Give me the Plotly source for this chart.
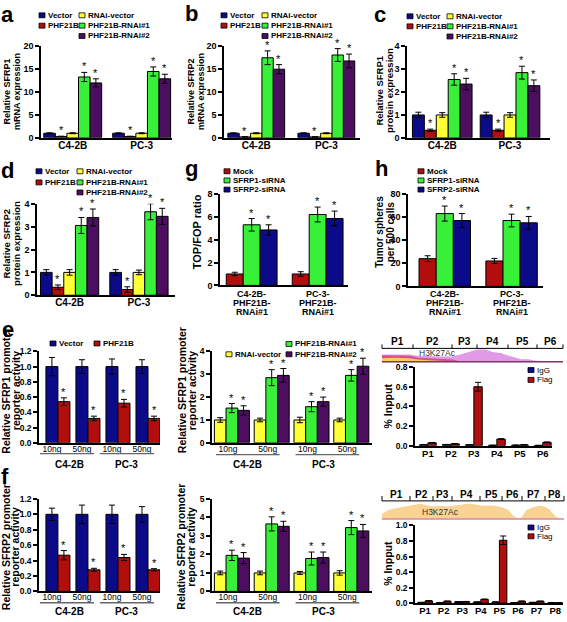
import plotly.graph_objects as go

W, H = 567, 622
FONT = "Liberation Sans, Arial, Helvetica, sans-serif"
NAVY = "#0b0b8a"
RED = "#b20e0e"
YELLOW = "#ffff38"
GREEN = "#38f038"
PURPLE = "#4c0f5f"

# ---------------- data ----------------
cells = ["C4-2B", "PC-3"]
oe_groups = ["Vector", "PHF21B", "RNAi-vector", "PHF21B-RNAi#1", "PHF21B-RNAi#2"]
oe_sig = [False, True, False, True, True]

a_mean = [[1.0, 1.0], [0.3, 0.3], [1.0, 1.0], [13.3, 14.5], [12.0, 12.9]]
a_err = [[0.1, 0.1], [0.05, 0.05], [0.1, 0.1], [1.0, 1.0], [0.9, 1.0]]
b_mean = [[1.0, 1.0], [0.2, 0.2], [1.0, 1.0], [17.5, 18.1], [15.0, 16.8]]
b_err = [[0.1, 0.1], [0.05, 0.05], [0.1, 0.1], [1.5, 1.4], [1.0, 1.5]]
c_mean = [[1.0, 1.0], [0.33, 0.33], [1.0, 1.0], [2.55, 2.85], [2.35, 2.28]]
c_err = [[0.12, 0.12], [0.05, 0.05], [0.1, 0.1], [0.25, 0.28], [0.25, 0.25]]
d_mean = [[1.0, 1.0], [0.35, 0.25], [1.0, 1.0], [3.05, 3.65], [3.4, 3.45]]
d_err = [[0.12, 0.12], [0.1, 0.12], [0.12, 0.1], [0.35, 0.35], [0.37, 0.35]]

sirna_groups = ["Mock", "SFRP1-siRNA", "SFRP2-siRNA"]
sirna_cells = ["C4-2B-PHF21B-RNAi#1", "PC-3-PHF21B-RNAi#1"]
sirna_cell_lines = [["C4-2B-", "PHF21B-", "RNAi#1"], ["PC-3-", "PHF21B-", "RNAi#1"]]
sirna_sig = [False, True, True]
g_mean = [[1.0, 1.0], [5.3, 6.2], [4.85, 5.85]]
g_err = [[0.15, 0.2], [0.55, 0.65], [0.45, 0.65]]
h_mean = [[24, 22], [63, 57], [57, 55]]
h_err = [[2.5, 2.2], [6.5, 5.5], [6.0, 5.5]]

dose_cats = ["C4-2B 10ng", "C4-2B 50ng", "PC-3 10ng", "PC-3 50ng"]
dose_labels = ["10ng", "50ng", "10ng", "50ng"]
oe_pair = ["Vector", "PHF21B"]
pair_sig = [False, True]
kd_trio = ["RNAi-vector", "PHF21B-RNAi#1", "PHF21B-RNAi#2"]
trio_sig = [False, True, True]
e1_mean = [[1.0, 1.0, 1.0, 1.0], [0.54, 0.32, 0.52, 0.32]]
e1_err = [[0.12, 0.09, 0.1, 0.09], [0.05, 0.03, 0.05, 0.03]]
e2_mean = [[1.0, 1.0, 1.0, 1.0], [1.52, 2.85, 1.58, 2.95], [1.42, 2.95, 1.8, 3.35]]
e2_err = [[0.1, 0.08, 0.12, 0.08], [0.2, 0.35, 0.22, 0.25], [0.2, 0.3, 0.2, 0.35]]
f1_mean = [[1.0, 1.0, 1.0, 1.0], [0.47, 0.28, 0.44, 0.28]]
f1_err = [[0.08, 0.12, 0.12, 0.1], [0.06, 0.02, 0.04, 0.015]]
f2_mean = [[1.0, 1.0, 1.0, 1.0], [1.95, 3.65, 1.78, 3.45], [1.8, 3.52, 1.83, 3.27]]
f2_err = [[0.1, 0.1, 0.08, 0.12], [0.28, 0.38, 0.35, 0.38], [0.3, 0.27, 0.3, 0.35]]

chip_groups = ["IgG", "Flag"]
chip_sig = [False, False]
e3_regions = ["P1", "P2", "P3", "P4", "P5", "P6"]
e3_mean = [[0.01, 0.012, 0.01, 0.005, 0.006, 0.004], [0.03, 0.02, 0.60, 0.068, 0.01, 0.035]]
e3_err = [[0.002, 0.002, 0.002, 0.001, 0.001, 0.001], [0.004, 0.003, 0.045, 0.004, 0.002, 0.004]]
f3_regions = ["P1", "P2", "P3", "P4", "P5", "P6", "P7", "P8"]
f3_mean = [[0.01, 0.005, 0.02, 0.015, 0.015, 0.008, 0.01, 0.005],
           [0.03, 0.025, 0.02, 0.05, 0.81, 0.025, 0.025, 0.005]]
f3_err = [[0.002, 0.001, 0.002, 0.002, 0.002, 0.001, 0.002, 0.001],
          [0.004, 0.004, 0.003, 0.003, 0.055, 0.004, 0.003, 0.002]]

# H3K27Ac signal tracks (relative genome position 0..1, relative signal 0..1)
e3_track_pos = [0, 0.07, 0.15, 0.2, 0.26, 0.33, 0.39, 0.42, 0.48, 0.53, 0.57, 0.61,
                0.66, 0.7, 0.73, 0.77, 0.81, 0.84, 0.88, 0.94, 1.0]
e3_track_pink = [0.6, 0.62, 0.6, 0.5, 0.45, 0.45, 0.45, 0.55, 0.8, 1.0, 1.0, 0.8,
                 0.7, 0.5, 0.4, 0.23, 0.23, 0.13, 0.1, 0.1, 0.1]
e3_track_red = [0.55, 0.55, 0.5, 0.35, 0.3, 0.28, 0.2, 0.1, 0.05, 0.03, 0.03, 0.03,
                0.03, 0.03, 0.03, 0.03, 0.03, 0.03, 0.03, 0.03, 0.03]
e3_track_yellow = [0.3, 0.35, 0.3, 0.2, 0.15, 0.1, 0.05, 0.02, 0.0, 0.0, 0.0, 0.0,
                   0.0, 0.0, 0.0, 0.0, 0.0, 0.0, 0.0, 0.0, 0.0]
f3_track_pos = [0, 0.033, 0.07, 0.106, 0.143, 0.179, 0.216, 0.253, 0.289, 0.326, 0.363,
                0.399, 0.436, 0.473, 0.509, 0.546, 0.582, 0.619, 0.656, 0.692, 0.72,
                0.747, 0.766, 0.793, 0.83, 0.866, 0.894, 0.921, 0.949, 0.976, 1.0]
f3_track_sig = [0.36, 0.6, 0.7, 0.79, 0.88, 0.95, 1.0, 0.88, 0.83, 0.88, 0.83, 0.88,
                0.95, 1.0, 0.98, 0.88, 0.9, 0.88, 0.79, 0.64, 0.24, 0.07, 0.15, 0.6,
                0.79, 0.88, 0.83, 0.64, 0.24, 0.07, 0.05]

# ---------------- figure helpers ----------------
fig = go.Figure()
layout = dict(width=W, height=H, margin=dict(l=0, r=0, t=0, b=0),
              paper_bgcolor="white", plot_bgcolor="white", showlegend=False,
              barmode="group", font=dict(family=FONT, color="black"))
annotations = []
shapes = []
counter = [0]


def X(p):
    return p / W


def Y(p):
    return 1 - p / H


def next_axes():
    counter[0] += 1
    n = counter[0]
    return "" if n == 1 else str(n)


def bar_panel(x0, x1, ytop, ybot, cats, tick_text, xrange, yrange, dtick, tickformat,
              names, means, errs, colors, sig, gap, shift=0.0, show_xlabels=True,
              xfont=10, xbold=True, err_w=3, star_size=11, standoff=-3, yfont=9):
    s = next_axes()
    xa, ya = "x" + s, "y" + s
    layout["xaxis" + s] = dict(
        domain=[X(x0), X(x1)], anchor=ya, type="category", categoryorder="array",
        categoryarray=cats, range=xrange, showline=True, linecolor="black", linewidth=1.5,
        ticks="", ticklabelstandoff=standoff, showgrid=False,
        zeroline=False, tickvals=cats, ticktext=tick_text, showticklabels=show_xlabels,
        tickfont=dict(size=xfont, weight="bold" if xbold else "normal"), fixedrange=True)
    layout["yaxis" + s] = dict(
        domain=[Y(ybot), Y(ytop)], anchor=xa, range=yrange, tick0=0, dtick=dtick,
        tickformat=tickformat, showline=True, linecolor="black", linewidth=1.5,
        ticks="outside", ticklen=4, tickwidth=1.5, tickcolor="black", showgrid=False,
        zeroline=False, tickfont=dict(size=yfont, weight="bold"), fixedrange=True)
    k = len(means)
    w = (1 - gap) / k
    for i in range(k):
        off = -(1 - gap) / 2 + i * w + shift
        fig.add_trace(go.Bar(
            name=names[i], x=cats, y=means[i], width=w, offset=off, xaxis=xa, yaxis=ya,
            marker=dict(color=colors[i], line=dict(color="black", width=1)),
            error_y=dict(type="data", array=errs[i], visible=True, color="black",
                         thickness=1, width=err_w),
            showlegend=False))
        if sig[i]:
            for j in range(len(cats)):
                annotations.append(dict(
                    xref=xa, yref=ya, x=j + off + w / 2, y=means[i][j] + errs[i][j],
                    text="*", showarrow=False, yanchor="bottom", yshift=-2,
                    font=dict(size=star_size, color="black")))
    return xa, ya


def legend_item(xm, yc, color, label, bold=True, size=8, sq=6):
    shapes.append(dict(type="rect", xref="paper", yref="paper",
                       x0=X(xm - sq / 2), x1=X(xm + sq / 2),
                       y0=Y(yc + sq / 2 - 0.5), y1=Y(yc - sq / 2 + 0.5),
                       fillcolor=color, line=dict(color="black", width=0.8)))
    annotations.append(dict(xref="paper", yref="paper", x=X(xm + sq / 2 + 1.5), y=Y(yc),
                            text=label, showarrow=False, xanchor="left", yanchor="middle",
                            borderpad=0,
                            font=dict(size=size, weight="bold" if bold else "normal")))


def ytitle(lines, yc, size=9):
    # lines: list of (x centre in px, text), one rotated annotation per line
    for xc, text in lines:
        annotations.append(dict(xref="paper", yref="paper", x=X(xc), y=Y(yc), text=text,
                                textangle=-90, showarrow=False, xanchor="center",
                                yanchor="middle", borderpad=0,
                                font=dict(size=size, weight="bold")))


def letter(xc, yc, t):
    annotations.append(dict(xref="paper", yref="paper", x=X(xc), y=Y(yc), text=t,
                            showarrow=False, xanchor="center", yanchor="middle",
                            font=dict(size=22, weight="bold")))


def dose_groups(xa, yline, ylab, spans, label_pos):
    for (a, b) in spans:
        shapes.append(dict(type="line", xref=xa, yref="paper", x0=a, x1=b,
                           y0=Y(yline), y1=Y(yline), line=dict(color="#666666", width=1.3)))
    for lab, xp in zip(cells, label_pos):
        annotations.append(dict(xref=xa, yref="paper", x=xp, y=Y(ylab), text=lab,
                                showarrow=False, xanchor="center", yanchor="middle",
                                borderpad=0, font=dict(size=10, weight="bold")))


def multiline_xlabels(xa, ys, lines):
    for j, parts in enumerate(lines):
        for yv, t in zip(ys, parts):
            annotations.append(dict(xref=xa, yref="paper", x=j, y=Y(yv), text=t,
                                    showarrow=False, xanchor="center", yanchor="middle",
                                    borderpad=0, font=dict(size=9, weight="bold")))


def track(x0, x1, ytop, ybot, layers, base_color):
    s = next_axes()
    layout["xaxis" + s] = dict(domain=[X(x0), X(x1)], anchor="y" + s, range=[0, 1],
                               visible=False, fixedrange=True)
    layout["yaxis" + s] = dict(domain=[Y(ybot), Y(ytop)], anchor="x" + s, range=[0, 1],
                               visible=False, fixedrange=True)
    for pos, vals, color in layers:
        fig.add_trace(go.Scatter(x=pos, y=vals, mode="lines", line=dict(width=0, color=color),
                                 fill="tozeroy", fillcolor=color, xaxis="x" + s,
                                 yaxis="y" + s, showlegend=False, hoverinfo="skip"))
    shapes.append(dict(type="line", xref="paper", yref="paper", x0=X(x0), x1=X(x1),
                       y0=Y(ybot - 0.5), y1=Y(ybot - 0.5), line=dict(color=base_color, width=1.5)))


def bracket(bounds, yline, ytick, labels, ylab):
    shapes.append(dict(type="line", xref="paper", yref="paper", x0=X(bounds[0]),
                       x1=X(bounds[-1]), y0=Y(yline), y1=Y(yline),
                       line=dict(color="black", width=1)))
    for b in bounds:
        shapes.append(dict(type="line", xref="paper", yref="paper", x0=X(b), x1=X(b),
                           y0=Y(yline), y1=Y(ytick), line=dict(color="black", width=1)))
    for i, lab in enumerate(labels):
        annotations.append(dict(xref="paper", yref="paper",
                                x=X((bounds[i] + bounds[i + 1]) / 2), y=Y(ylab), text=lab,
                                showarrow=False, xanchor="center", yanchor="middle",
                                borderpad=0, font=dict(size=10, weight="bold")))


def track_label(xc, yc):
    annotations.append(dict(xref="paper", yref="paper", x=X(xc), y=Y(yc), text="H3K27Ac",
                            showarrow=False, xanchor="center", yanchor="middle",
                            borderpad=0, font=dict(size=8.5, color="#333333")))


oe_colors = [NAVY, RED, YELLOW, GREEN, PURPLE]
sirna_colors = [RED, GREEN, NAVY]


def oe_legend(x1, x2, rows):
    legend_item(x1, rows[0], NAVY, "Vector")
    legend_item(x1, rows[1], RED, "PHF21B")
    legend_item(x2, rows[0], YELLOW, "RNAi-vector")
    legend_item(x2, rows[1], GREEN, "PHF21B-RNAi#1")
    legend_item(x2, rows[2], PURPLE, "PHF21B-RNAi#2")


# ---------------- panel a ----------------
bar_panel(41, 172, 42, 135, cells, cells, [-0.46, 1.44], [0, 20], 5, "d",
          oe_groups, a_mean, a_err, oe_colors, oe_sig, gap=0.16)
oe_legend(42, 82, [10.5, 21, 31.5])
ytitle([(7, "Relative SFRP1"), (16.5, "mRNA expression")], 88)
letter(7, 10, "a")

# ---------------- panel b ----------------
bar_panel(224, 360, 42, 135, cells, cells, [-0.46, 1.48], [0, 20], 5, "d",
          oe_groups, b_mean, b_err, oe_colors, oe_sig, gap=0.19)
oe_legend(224, 265, [10.5, 21, 31.5])
ytitle([(191, "Relative SFRP2"), (200.5, "mRNA expression")], 88)
letter(191, 9, "b")

# ---------------- panel c ----------------
bar_panel(407, 550, 42, 135, cells, cells, [-0.52, 1.59], [0, 4], 1, "d",
          oe_groups, c_mean, c_err, oe_colors, oe_sig, gap=0.12)
oe_legend(410, 450, [11.5, 21.7, 32])
ytitle([(380, "Relative SFRP1"), (389.5, "protein expression")], 87, size=9.5)
letter(380, 10, "c")

# ---------------- panel d ----------------
bar_panel(37, 175, 202, 295, cells, cells, [-0.47, 1.52], [0, 4], 1, "d",
          oe_groups, d_mean, d_err, oe_colors, oe_sig, gap=0.16)
oe_legend(39, 80, [169, 180.3, 190.5])
ytitle([(6.5, "Relative SFRP2"), (16, "protein expression")], 243, size=9.5)
letter(7, 168, "d")

# ---------------- panel g ----------------
gx, _ = bar_panel(220, 348, 192, 285, sirna_cells, sirna_cells, [-0.48, 1.46], [0, 8], 2, "d",
                  sirna_groups, g_mean, g_err, sirna_colors, sirna_sig, gap=0.23,
                  show_xlabels=False)
multiline_xlabels(gx, [293.3, 302.5, 311.7], sirna_cell_lines)
legend_item(227, 169, RED, "Mock")
legend_item(227, 178.3, GREEN, "SFRP1-siRNA")
legend_item(227, 187.6, NAVY, "SFRP2-siRNA")
ytitle([(197, "TOP/FOP ratio")], 231, size=11)
letter(191, 166, "g")

# ---------------- panel h ----------------
hx, _ = bar_panel(408, 543, 192, 286, sirna_cells, sirna_cells, [-0.55, 1.47], [0, 80], 20, "d",
                  sirna_groups, h_mean, h_err, sirna_colors, sirna_sig, gap=0.23,
                  show_xlabels=False)
multiline_xlabels(hx, [293.3, 302.5, 311.7], sirna_cell_lines)
legend_item(421, 169, RED, "Mock")
legend_item(421, 178.3, GREEN, "SFRP1-siRNA")
legend_item(421, 187.6, NAVY, "SFRP2-siRNA")
ytitle([(379.5, "Tumor spheres"), (390, "per 500 cells")], 231, size=10)
letter(381, 166, "h")

# ---------------- panel e ----------------
e1x, _ = bar_panel(39, 160, 352, 445, dose_cats, dose_labels, [-0.43, 3.6], [0, 1.2], 0.2, ".1f",
                   oe_pair, e1_mean, e1_err, [NAVY, RED], pair_sig, gap=0.2, shift=0.2,
                   xfont=8.5, xbold=False, yfont=8.5)
dose_groups(e1x, 456, 466.5, [(-0.4, 1.4), (1.6, 3.4)], [0.59, 2.48])
legend_item(53, 344, NAVY, "Vector")
legend_item(97, 344, RED, "PHF21B")
ytitle([(6, "Relative SFRP1 promoter"), (15.5, "reporter activity")], 392, size=10.5)
letter(8, 330, "e")

e2x, _ = bar_panel(212, 372, 352, 445, dose_cats, dose_labels, [-0.4, 3.62], [0, 4], 1, "d",
                   kd_trio, e2_mean, e2_err, [YELLOW, GREEN, PURPLE], trio_sig, gap=0.12,
                   shift=0.1, xfont=8.5, xbold=False, yfont=8.5)
dose_groups(e2x, 457, 466.5, [(-0.3, 1.3), (1.7, 3.3)], [0.5, 2.4])
legend_item(229, 355, YELLOW, "RNAi-vector")
legend_item(289, 344.5, GREEN, "PHF21B-RNAi#1")
legend_item(289, 355, PURPLE, "PHF21B-RNAi#2")
ytitle([(181.5, "Relative SFRP1 promoter"), (191.5, "reporter activity")], 392, size=10.5)

bar_panel(415, 552, 368, 448, e3_regions, e3_regions, [-0.56, 5.4], [0, 0.8], 0.2, ".1f",
          chip_groups, e3_mean, e3_err, [NAVY, RED], chip_sig, gap=0.27, xfont=9.5,
          standoff=-2, yfont=8.5)
legend_item(531, 371, NAVY, "IgG", bold=False)
legend_item(531, 381, RED, "Flag", bold=False)
ytitle([(388, "% Inpput")], 408, size=10.5)
track(382, 563, 350, 363, [(e3_track_pos, e3_track_pink, "#e19be6"),
                           (e3_track_pos, e3_track_red, "#d9508a"),
                           (e3_track_pos, e3_track_yellow, "#f4cf5a")], "#7a3a6a")
bracket([382, 413, 452, 477, 508, 537, 563], 349, 345, e3_regions, 342)
track_label(437, 354)

# ---------------- panel f ----------------
f1x, _ = bar_panel(39, 160, 502, 596, dose_cats, dose_labels, [-0.43, 3.6], [0, 1.2], 0.2, ".1f",
                   oe_pair, f1_mean, f1_err, [NAVY, RED], pair_sig, gap=0.2, shift=0.2,
                   xfont=8.5, xbold=False, yfont=8.5)
dose_groups(f1x, 607.5, 616.5, [(-0.4, 1.4), (1.6, 3.4)], [0.59, 2.48])
ytitle([(6, "Relative SFRP2 promoter"), (15.5, "reporter activity")], 551, size=10.5)
letter(5, 479, "f")

f2x, _ = bar_panel(212, 372, 502, 596, dose_cats, dose_labels, [-0.4, 3.62], [0, 5], 1, "d",
                   kd_trio, f2_mean, f2_err, [YELLOW, GREEN, PURPLE], trio_sig, gap=0.12,
                   shift=0.1, xfont=8.5, xbold=False, yfont=8.5)
dose_groups(f2x, 607.5, 616.5, [(-0.3, 1.3), (1.7, 3.3)], [0.5, 2.4])
ytitle([(181.5, "Relative SFRP2 promoter"), (191.5, "reporter activity")], 551, size=10.5)

bar_panel(415, 563, 529, 608, f3_regions, f3_regions, [-0.54, 7.42], [0, 1.0], 0.2, ".1f",
          chip_groups, f3_mean, f3_err, [NAVY, RED], chip_sig, gap=0.2, xfont=9.5,
          standoff=-2, yfont=8.5)
legend_item(531, 531, NAVY, "IgG", bold=False)
legend_item(531, 540, RED, "Flag", bold=False)
ytitle([(388, "% Inpput")], 568, size=10.5)
track(382, 564, 507, 523, [(f3_track_pos, f3_track_sig, "#f8d394")], "#d88aa8")
bracket([382, 410, 433, 452, 480, 502, 522, 545, 564], 504, 499, f3_regions, 497)
track_label(440, 515)

layout["annotations"] = annotations
layout["shapes"] = shapes
fig.update_layout(**layout)
fig.write_html("out.html", config={"displayModeBar": False},
               post_script="document.body.style.margin='0';")
